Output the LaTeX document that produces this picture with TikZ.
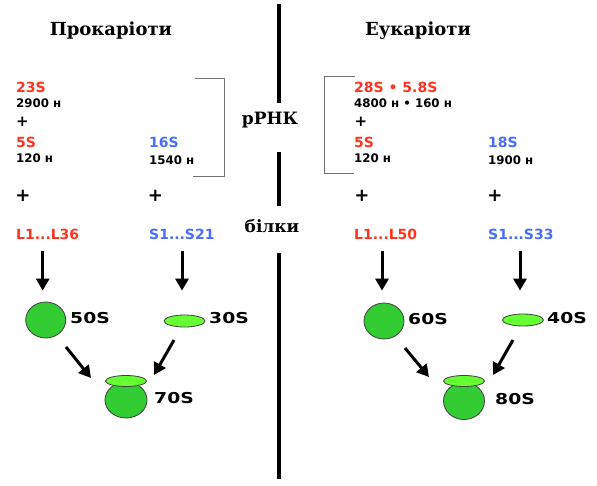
\documentclass[tikz,border=0pt]{standalone}
\usepackage{fontspec}
\setmainfont{DejaVu Sans}
\newfontfamily\serifb{DejaVu Serif}
\newfontfamily\widesans{DejaVu Sans}[FakeStretch=1.25]
\usetikzlibrary{arrows.meta,shapes.geometric,calc}
\definecolor{rnared}{HTML}{FF3322}
\definecolor{rnablue}{HTML}{4A6CFF}
\definecolor{dkgreen}{HTML}{33CC33}
\definecolor{ltgreen}{HTML}{66FF33}
\tikzset{
  lbl/.style={anchor=base west, inner sep=0pt, font=\bfseries\fontsize{14}{16}\selectfont},
  num/.style={anchor=base west, inner sep=0pt, font=\bfseries\fontsize{11.8}{13}\selectfont},
  plusa/.style={anchor=center, inner sep=0pt, font=\bfseries\fontsize{15}{16}\selectfont},
  plusb/.style={anchor=center, inner sep=0pt, font=\bfseries\fontsize{18}{19}\selectfont},
  ttl/.style={anchor=base, inner sep=0pt, font=\serifb\bfseries\fontsize{18}{20}\selectfont},
  midlbl/.style={anchor=base, inner sep=0pt, font=\serifb\bfseries\fontsize{17}{19}\selectfont},
  szlbl/.style={anchor=base west, inner sep=0pt, font=\widesans\bfseries\fontsize{15}{17}\selectfont},
  bigsub/.style={ellipse, draw=black!75, fill=dkgreen, line width=0.8pt, inner sep=0pt, minimum width=40pt, minimum height=36pt},
  smallsub/.style={ellipse, draw=black!75, fill=ltgreen, line width=0.8pt, inner sep=0pt, minimum width=41pt, minimum height=12pt},
  arr/.style={line width=3pt, -{Triangle[width=13pt,length=12pt]}},
  divider/.style={line width=4pt},
  brk/.style={draw=black!55, line width=1pt}
}
\begin{document}
\begin{tikzpicture}[x=1pt,y=-1pt]
\useasboundingbox[fill=white] (0,0) rectangle (597,485);

% titles
\node[ttl] (tpro) at (111,35.6) {Прокаріоти};
\node[ttl] (teu) at (418,35.6) {Еукаріоти};

% divider
\draw[divider] (279,4) -- (279,103);
\draw[divider] (279,152) -- (279,206);
\draw[divider] (279,253) -- (279,479);

\node[midlbl] (rrna) at (270,124) {рРНК};
\node[midlbl] (prot) at (272,232.7) {білки};

% brackets
\draw[brk] (195,78) -- (224,78) -- (224,176) -- (193,176);
\draw[brk] (355,76) -- (324,76) -- (324,173) -- (354,173);

% prokaryotes
\node[lbl, text=rnared] (p23) at (16,92.3) {23S};
\node[num] (p2900) at (16,107.3) {2900 н};
\node[plusa] (pp1) at (22.5,122) {+};
\node[lbl, text=rnared] (p5) at (16,147.3) {5S};
\node[num] (p120) at (16,162.7) {120 н};
\node[lbl, text=rnablue] (p16) at (149,147.3) {16S};
\node[num] (p1540) at (149,164) {1540 н};
\node[plusb] (pp2) at (23,196) {+};
\node[plusb] (pp3) at (155.5,196) {+};
\node[lbl, text=rnared] (l36) at (16,239.3) {L1...L36};
\node[lbl, text=rnablue] (s21) at (149,239.3) {S1...S21};

% eukaryotes
\node[lbl, text=rnared] (e28) at (354,92.3) {28S • 5.8S};
\node[num] (e4800) at (354,107.7) {4800 н • 160 н};
\node[plusa] (ep1) at (361,122) {+};
\node[lbl, text=rnared] (e5) at (354,147.3) {5S};
\node[num] (e120) at (354,162.7) {120 н};
\node[lbl, text=rnablue] (e18) at (488,147.3) {18S};
\node[num] (e1900) at (488,164) {1900 н};
\node[plusb] (ep2) at (362,196) {+};
\node[plusb] (ep3) at (495,196) {+};
\node[lbl, text=rnared] (l50) at (354,239.3) {L1...L50};
\node[lbl, text=rnablue] (s33) at (488,239.3) {S1...S33};

% subunits prokaryotes
\node[bigsub] (c50) at (45.7,320) {};
\node[szlbl] (n50) at (70,323.3) {50S};
\node[smallsub] (e30) at (184.5,321) {};
\node[szlbl] (n30) at (209,323.3) {30S};
\node[bigsub, minimum width=42pt] (b70) at (126,400) {};
\node[smallsub, minimum height=11pt] (t70) at (126,381) {};
\node[szlbl] (n70) at (154,403.3) {70S};

% subunits eukaryotes
\node[bigsub] (c60) at (384,321) {};
\node[szlbl] (n60) at (408,324) {60S};
\node[smallsub] (e40) at (523,320) {};
\node[szlbl] (n40) at (547,323.3) {40S};
\node[bigsub, minimum width=41pt, minimum height=37pt] (b80) at (464,401) {};
\node[smallsub, minimum height=11pt] (t80) at (464,381) {};
\node[szlbl] (n80) at (495,404) {80S};

% vertical arrows
\draw[arr] ($(l36.south -| 42.7,0)+(0,11.7)$) -- ([shift={(-3,-11)}]c50.north);
\draw[arr] ($(s21.south -| 182,0)+(0,11.7)$) -- ([shift={(-2.5,-24)}]e30.north);
\draw[arr] ($(l50.south -| 382,0)+(0,11.7)$) -- ([shift={(-2,-12)}]c60.north);
\draw[arr] ($(s33.south -| 520,0)+(0,11.7)$) -- ([shift={(-3,-23)}]e40.north);

% diagonal arrows
\draw[arr] ([shift={(20.3,27)}]c50.center) -- ([shift={(-35,-3)}]t70.center);
\draw[arr] ([shift={(-10.5,19)}]e30.center) -- ([shift={(28,-6)}]t70.center);
\draw[arr] ([shift={(21,27)}]c60.center) -- ([shift={(-35,-4)}]t80.center);
\draw[arr] ([shift={(-10,20)}]e40.center) -- ([shift={(29,-6)}]t80.center);
\end{tikzpicture}
\end{document}
